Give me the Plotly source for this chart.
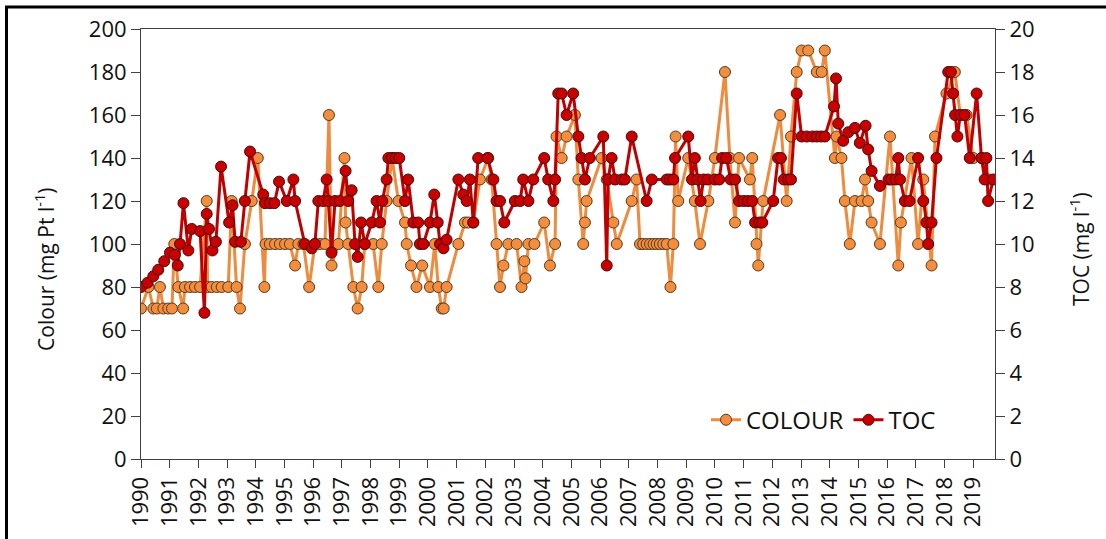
import plotly.graph_objects as go

# ---- data ----
colour_year = [1990.00, 1990.26, 1990.43, 1990.55, 1990.66, 1990.78, 1990.95, 1991.08, 1991.16, 1991.30,
               1991.47, 1991.53, 1991.71, 1991.88, 1992.06, 1992.29, 1992.32, 1992.46, 1992.64, 1992.81,
               1993.04, 1993.16, 1993.33, 1993.45, 1993.62, 1993.86, 1994.07, 1994.30, 1994.34, 1994.49,
               1994.67, 1994.84, 1995.02, 1995.19, 1995.37, 1995.48, 1995.66, 1995.86, 1996.06, 1996.24,
               1996.41, 1996.55, 1996.64, 1996.88, 1997.09, 1997.13, 1997.22, 1997.40, 1997.55, 1997.69,
               1997.80, 1998.09, 1998.27, 1998.39, 1998.56, 1998.75, 1998.97, 1999.20, 1999.26, 1999.41,
               1999.60, 1999.80, 2000.07, 2000.24, 2000.36, 2000.48, 2000.55, 2000.65, 2001.06, 2001.29,
               2001.40, 2001.58, 2001.81, 2002.10, 2002.22, 2002.39, 2002.51, 2002.63, 2002.80, 2003.09,
               2003.26, 2003.36, 2003.40, 2003.50, 2003.71, 2004.05, 2004.25, 2004.43, 2004.48, 2004.66,
               2004.83, 2005.12, 2005.24, 2005.41, 2005.47, 2005.53, 2006.05, 2006.23, 2006.46, 2006.58,
               2007.10, 2007.27, 2007.39, 2007.50, 2007.62, 2007.74, 2007.86, 2007.97, 2008.08, 2008.20,
               2008.32, 2008.45, 2008.55, 2008.63, 2008.72, 2009.07, 2009.30, 2009.48, 2009.77, 2010.00,
               2010.35, 2010.52, 2010.70, 2010.84, 2011.22, 2011.30, 2011.45, 2011.51, 2011.68, 2012.27,
               2012.50, 2012.65, 2012.85, 2013.02, 2013.25, 2013.55, 2013.72, 2013.83, 2014.18, 2014.24,
               2014.41, 2014.53, 2014.70, 2014.88, 2015.11, 2015.23, 2015.34, 2015.46, 2015.75, 2016.10,
               2016.39, 2016.48, 2016.85, 2017.08, 2017.26, 2017.55, 2017.67, 2018.07, 2018.36, 2018.55,
               2018.77, 2019.00, 2019.30, 2019.55]
colour_value = [70, 80, 70, 70, 80, 70, 70, 70, 100, 80,
                70, 80, 80, 80, 80, 120, 80, 80, 80, 80,
                80, 120, 80, 70, 100, 120, 140, 80, 100, 100,
                100, 100, 100, 100, 90, 100, 100, 80, 100, 100,
                100, 160, 90, 100, 140, 110, 100, 80, 70, 80,
                100, 100, 80, 100, 120, 140, 120, 110, 100, 90,
                80, 90, 80, 100, 80, 70, 70, 80, 100, 110,
                110, 110, 130, 140, 130, 100, 80, 90, 100, 100,
                80, 92, 84, 100, 100, 110, 90, 100, 150, 140,
                150, 160, 130, 100, 110, 120, 140, 130, 110, 100,
                120, 130, 100, 100, 100, 100, 100, 100, 100, 100,
                100, 80, 100, 150, 120, 140, 120, 100, 120, 140,
                180, 140, 110, 140, 130, 140, 100, 90, 120, 160,
                120, 150, 180, 190, 190, 180, 180, 190, 140, 150,
                140, 120, 100, 120, 120, 130, 120, 110, 100, 150,
                90, 110, 140, 100, 130, 90, 150, 170, 180, 160,
                160, 140, 140, 130]

toc_year = [1990.00, 1990.23, 1990.43, 1990.60, 1990.81, 1991.01, 1991.18, 1991.28, 1991.36, 1991.48,
            1991.65, 1991.77, 1992.06, 1992.21, 1992.29, 1992.37, 1992.49, 1992.61, 1992.79, 1993.07,
            1993.19, 1993.28, 1993.48, 1993.62, 1993.80, 1994.26, 1994.32, 1994.49, 1994.65, 1994.81,
            1995.08, 1995.31, 1995.37, 1995.71, 1995.95, 1996.06, 1996.18, 1996.35, 1996.47, 1996.53,
            1996.64, 1996.76, 1996.93, 1997.13, 1997.22, 1997.34, 1997.46, 1997.55, 1997.67, 1997.80,
            1998.04, 1998.21, 1998.33, 1998.41, 1998.56, 1998.62, 1998.75, 1998.88, 1999.00, 1999.20,
            1999.31, 1999.49, 1999.66, 1999.72, 1999.84, 2000.07, 2000.22, 2000.34, 2000.42, 2000.54,
            2000.65, 2001.06, 2001.23, 2001.35, 2001.46, 2001.58, 2001.75, 2002.08, 2002.28, 2002.39,
            2002.51, 2002.66, 2003.03, 2003.21, 2003.32, 2003.50, 2003.67, 2004.05, 2004.19, 2004.37,
            2004.43, 2004.54, 2004.66, 2004.83, 2005.06, 2005.24, 2005.35, 2005.47, 2005.64, 2006.11,
            2006.23, 2006.28, 2006.40, 2006.52, 2006.75, 2006.86, 2007.10, 2007.62, 2007.80, 2008.32,
            2008.43, 2008.55, 2008.61, 2009.07, 2009.20, 2009.30, 2009.40, 2009.50, 2009.60, 2009.75,
            2010.00, 2010.15, 2010.25, 2010.40, 2010.55, 2010.70, 2010.84, 2011.00, 2011.15, 2011.30,
            2011.40, 2011.55, 2011.65, 2012.03, 2012.20, 2012.30, 2012.40, 2012.55, 2012.65, 2012.85,
            2013.02, 2013.20, 2013.40, 2013.55, 2013.70, 2013.83, 2014.15, 2014.22, 2014.30, 2014.47,
            2014.65, 2014.88, 2015.05, 2015.25, 2015.34, 2015.46, 2015.75, 2016.05, 2016.15, 2016.30,
            2016.39, 2016.45, 2016.62, 2016.78, 2017.08, 2017.26, 2017.37, 2017.43, 2017.55, 2017.72,
            2018.13, 2018.22, 2018.30, 2018.37, 2018.45, 2018.55, 2018.70, 2018.88, 2019.12, 2019.29,
            2019.40, 2019.46, 2019.52, 2019.70]
toc_value = [8.0, 8.2, 8.5, 8.8, 9.2, 9.6, 9.5, 9.0, 10.0, 11.9,
             9.7, 10.7, 10.6, 6.8, 11.4, 10.7, 9.7, 10.1, 13.6, 11.0,
             11.8, 10.1, 10.1, 12.0, 14.3, 12.3, 11.9, 11.9, 11.9, 12.9,
             12.0, 13.0, 12.0, 10.0, 9.8, 10.0, 12.0, 12.0, 13.0, 12.0,
             9.6, 12.0, 12.0, 13.4, 12.0, 12.5, 10.0, 9.4, 11.0, 10.0,
             11.0, 12.0, 11.0, 12.0, 13.0, 14.0, 14.0, 14.0, 14.0, 12.0,
             13.0, 11.0, 11.0, 10.0, 10.0, 11.0, 12.3, 11.0, 10.0, 9.8,
             10.2, 13.0, 12.3, 12.0, 13.0, 11.0, 14.0, 14.0, 13.0, 12.0,
             12.0, 11.0, 12.0, 12.0, 13.0, 12.0, 13.0, 14.0, 13.0, 12.0,
             13.0, 17.0, 17.0, 16.0, 17.0, 15.0, 14.0, 13.0, 14.0, 15.0,
             9.0, 13.0, 14.0, 13.0, 13.0, 13.0, 15.0, 12.0, 13.0, 13.0,
             13.0, 13.0, 14.0, 15.0, 13.0, 14.0, 13.0, 12.0, 13.0, 13.0,
             13.0, 13.0, 14.0, 14.0, 13.0, 13.0, 12.0, 12.0, 12.0, 12.0,
             11.0, 11.0, 11.0, 12.0, 14.0, 14.0, 13.0, 13.0, 13.0, 17.0,
             15.0, 15.0, 15.0, 15.0, 15.0, 15.0, 16.4, 17.7, 15.6, 14.8,
             15.2, 15.4, 14.7, 15.5, 14.4, 13.4, 12.7, 13.0, 13.0, 13.0,
             14.0, 13.0, 12.0, 12.0, 14.0, 12.0, 11.0, 10.0, 11.0, 14.0,
             18.0, 18.0, 17.0, 16.0, 15.0, 16.0, 16.0, 14.0, 17.0, 14.0,
             13.0, 14.0, 12.0, 13.0]

year_ticks = list(range(1990, 2020))
year_labels = [str(y) for y in year_ticks]

FONT = "Open Sans"
AX = "#404040"
TXT = "#111111"

# plot area in pixels: left 141, right 995, top 29, bottom 461
PW, PH = 854, 432


def px_x(p):
    return (p - 141) / PW


def px_y(p):
    return (461 - p) / PH


fig = go.Figure()
fig.add_trace(go.Scatter(
    x=colour_year, y=colour_value, name="COLOUR", mode="lines+markers",
    line=dict(color="#ED8B3E", width=3),
    marker=dict(size=11, color="#F28E3E", line=dict(color="#5A3A20", width=1)),
))
fig.add_trace(go.Scatter(
    x=toc_year, y=toc_value, name="TOC", mode="lines+markers", yaxis="y2",
    line=dict(color="#C00000", width=3),
    marker=dict(size=11, color="#C80000", line=dict(color="#4A0A0A", width=1)),
))

fig.update_layout(
    width=1106, height=539,
    margin=dict(l=141, r=111, t=29, b=78),
    paper_bgcolor="white", plot_bgcolor="white",
    font=dict(family=FONT, size=22, color=TXT),
    showlegend=True,
    legend=dict(orientation="h", x=px_x(706), y=px_y(422), xanchor="left", yanchor="middle",
                bgcolor="rgba(0,0,0,0)", font=dict(size=24, color=TXT), itemwidth=30,
                tracegroupgap=0),
    xaxis=dict(range=[1990, 2019.76], tickmode="array", tickvals=year_ticks, ticktext=year_labels,
               tickangle=-90, ticks="outside", ticklen=8, tickcolor=AX, showline=True,
               linecolor=AX, linewidth=1, mirror=True, showgrid=False, zeroline=False,
               tickfont=dict(size=22, color=TXT)),
    yaxis=dict(range=[0, 200], dtick=20, ticks="outside", ticklen=9, tickcolor=AX,
               showline=True, linecolor=AX, linewidth=1, showgrid=False, zeroline=False,
               tickfont=dict(size=22, color=TXT)),
    yaxis2=dict(range=[0, 20], dtick=2, overlaying="y", side="right", ticks="outside", ticklen=9,
                tickcolor=AX, showline=True, linecolor=AX, linewidth=1, showgrid=False,
                zeroline=False, tickfont=dict(size=22, color=TXT)),
    annotations=[
        dict(text="Colour (mg Pt l<sup>-1</sup>)", textangle=-90, xref="paper", yref="paper",
             x=px_x(45), y=px_y(271), xanchor="center", yanchor="middle", showarrow=False,
             font=dict(size=21, color=TXT)),
        dict(text="TOC (mg l<sup>-1</sup>)", textangle=-90, xref="paper", yref="paper",
             x=px_x(1080), y=px_y(250), xanchor="center", yanchor="middle", showarrow=False,
             font=dict(size=21, color=TXT)),
    ],
    shapes=[dict(type="rect", xref="paper", yref="paper",
                 x0=px_x(6.5), x1=px_x(1112),
                 y0=px_y(548), y1=px_y(7),
                 line=dict(color="black", width=3), fillcolor="rgba(0,0,0,0)", layer="above")],
)

fig.write_html("out.html", config={"displayModeBar": False},
               post_script="document.body.style.margin='0';document.body.style.overflow='hidden';")
